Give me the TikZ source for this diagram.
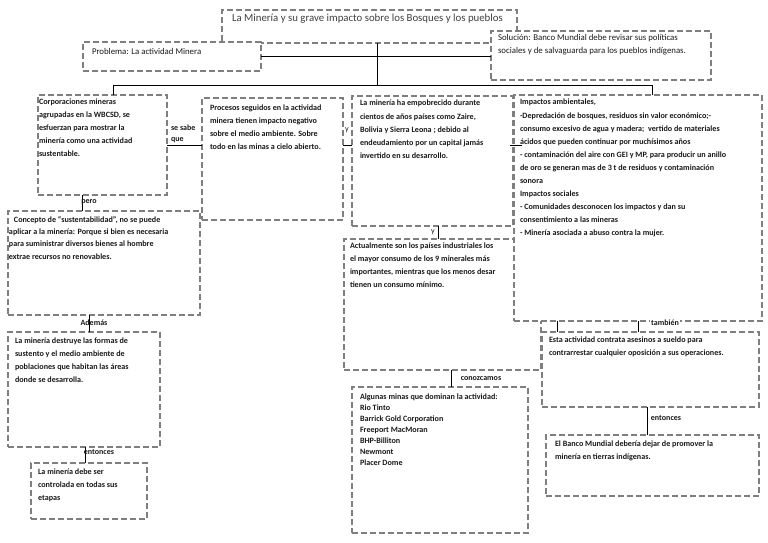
\documentclass[tikz,border=0pt]{standalone}
\usepackage{fontspec}
\setmainfont{Carlito}
\definecolor{boxgray}{HTML}{7F7F7F}
\definecolor{txtcol}{HTML}{1A1A1A}
\definecolor{titlecol}{HTML}{404040}
\begin{document}
\begin{tikzpicture}[x=1pt,y=-1pt,
  box/.style={draw=boxgray, line width=1.5pt, dash pattern=on 6pt off 3pt, fill=white, inner sep=0pt, outer sep=0pt, anchor=north west},
  txt/.style={inner sep=0pt, outer sep=0pt, anchor=north west, align=left, text=txtcol, font=\bfseries\fontsize{8.1}{13}\selectfont, execute at begin node={\rule{0pt}{7.5pt}}},
  rtxt/.style={txt, font=\fontsize{8.8}{13}\selectfont},
  lbl/.style={inner sep=0pt, outer sep=0pt, text=txtcol, font=\bfseries\fontsize{8}{11}\selectfont, align=left},
  conn/.style={draw=black, line width=0.9pt}]
\useasboundingbox (0,0) rectangle (768,543);
\fill[white] (0,0) rectangle (768,543);

% title
\node[box, minimum width=295pt, minimum height=33pt] (title) at (222,10) {};
\node[txt, text=titlecol, font=\fontsize{10.8}{12}\selectfont] (titletxt) at (232,14.3) {La Minería y su grave impacto sobre los Bosques y los pueblos};
% problema
\node[box, minimum width=178pt, minimum height=29pt] (problema) at (83,42) {};
\node[rtxt] (problematxt) at (92,47.3) {Problema: La actividad Minera};
% solucion
\node[box, minimum width=220pt, minimum height=49pt] (solucion) at (491,31) {};
\node[rtxt] (soluciontxt) at (498,34.8) {Solución: Banco Mundial debe revisar sus políticas\\sociales y de salvaguarda para los pueblos indígenas.};

% corporaciones
\node[box, minimum width=129pt, minimum height=100pt] (corp) at (38,95) {};
\node[txt] (corptxt) at (39,99.3) {Corporaciones mineras\\agrupadas en la WBCSD, se\\esfuerzan para mostrar la\\minería como una actividad\\sustentable.};
% procesos
\node[box, minimum width=141pt, minimum height=122pt] (procesos) at (202,98) {};
\node[txt] (procesostxt) at (210,105.3) {Procesos seguidos en la actividad\\minera tienen impacto negativo\\sobre el medio ambiente. Sobre\\todo en las minas a cielo abierto.};
% concepto
\node[box, minimum width=192pt, minimum height=104pt] (concepto) at (8,211) {};
\node[txt, font=\bfseries\fontsize{8.1}{12.3}\selectfont] (conceptotxt) at (9,216.3) {\hspace*{5pt}Concepto de ``sustentabilidad'', no se puede\\aplicar a la minería: Porque si bien es necesaria\\para suministrar diversos bienes al hombre\\extrae recursos no renovables.};
% la mineria ha empobrecido
\node[box, minimum width=161pt, minimum height=130pt] (lamin) at (352,96) {};
\node[txt, font=\bfseries\fontsize{8.1}{13.2}\selectfont] (lamintxt) at (360,100.3) {La minería ha empobrecido durante\\cientos de años países como Zaire,\\Bolivia y Sierra Leona ; debido al\\endeudamiento por un capital jamás\\invertido en su desarrollo.};
% actualmente
\node[box, minimum width=197pt, minimum height=131pt] (actual) at (344,239) {};
\node[txt] (actualtxt) at (350,243.3) {Actualmente son los países industriales los\\el mayor consumo de los 9 minerales más\\importantes, mientras que los menos desar\\tienen un consumo mínimo.};
% impactos
\node[box, minimum width=248pt, minimum height=226pt] (impactos) at (514,95) {};
\node[txt, font=\bfseries\fontsize{8.1}{13.1}\selectfont] (impactostxt) at (520,99.3) {Impactos ambientales,\\-Depredación de bosques, residuos sin valor económico;-\\consumo excesivo de agua y madera;\ \ vertido de materiales\\ácidos que pueden continuar por muchísimos años\\- contaminación del aire con GEI y MP, para producir un anillo\\de oro se generan mas de 3 t de residuos y contaminación\\sonora\\Impactos sociales\\- Comunidades desconocen los impactos y dan su\\consentimiento a las mineras\\- Minería asociada a abuso contra la mujer.};
% destruye
\node[box, minimum width=152pt, minimum height=115pt] (destruye) at (8,332) {};
\node[txt] (destruyetxt) at (15,338.3) {La minería destruye las formas de\\sustento y el medio ambiente de\\poblaciones que habitan las áreas\\donde se desarrolla.};
% debe
\node[box, minimum width=116pt, minimum height=56pt] (debe) at (31,463) {};
\node[txt] (debetxt) at (38,469.3) {La minería debe ser\\controlada en todas sus\\etapas};
% algunas
\node[box, minimum width=176pt, minimum height=146pt] (algunas) at (352,387) {};
\node[txt, font=\bfseries\fontsize{8.1}{11.1}\selectfont] (algunastxt) at (360,393.3) {Algunas minas que dominan la actividad:\\Rio Tinto\\Barrick Gold Corporation\\Freeport MacMoran\\BHP-Billiton\\Newmont\\Placer Dome};
% esta actividad
\node[box, minimum width=217pt, minimum height=75pt] (esta) at (542,332) {};
\node[txt] (estatxt) at (549,337.3) {Esta actividad contrata asesinos a sueldo para\\contrarrestar cualquier oposición a sus operaciones.};
% banco
\node[box, minimum width=213pt, minimum height=61pt] (banco) at (546,435) {};
\node[txt] (bancotxt) at (555,441.3) {El Banco Mundial debería dejar de promover la\\minería en tierras indígenas.};

% connectors
\coordinate (bus) at (377,85);
\coordinate (row) at (0,145);
\coordinate (xa) at (82,0);
\coordinate (xb) at (89,0);
\coordinate (xc) at (85,0);
\coordinate (xd) at (438,0);
\coordinate (xe) at (451,0);
\coordinate (xf) at (638,0);
\coordinate (xg) at (557,0);
\coordinate (xh) at (647,0);
\coordinate (xl) at (113,0);
\coordinate (xr) at (652,0);
\draw[conn] (title.south -| bus) -- (bus);
\draw[conn] (xl |- corp.north) -- (xl |- bus) -- (xr |- bus) -- (xr |- impactos.north);
\draw[conn] (problema.east) -- (problema.east -| solucion.west);
\draw[conn] (corp.east |- row) -- (procesos.west |- row);
\draw[conn] (procesos.east |- row) -- (lamin.west |- row);
\draw[conn] ([xshift=-3pt]lamin.east |- row) -- ([xshift=8pt]impactos.west |- row);
\draw[conn] (xa |- corp.south) -- (xa |- concepto.north);
\draw[conn] (xb |- concepto.south) -- (xb |- destruye.north);
\draw[conn] (xc |- destruye.south) -- (xc |- debe.north);
\draw[conn] (xd |- lamin.south) -- (xd |- actual.north);
\draw[conn] (xe |- actual.south) -- (xe |- algunas.north);
\draw[conn] (xf |- impactos.south) -- (xf |- esta.north);
\draw[conn] (xg |- impactos.south) -- (xg |- esta.north);
\draw[conn] (xh |- esta.south) -- (xh |- banco.north);

% labels
\node[lbl, anchor=west] (lsabe) at (171,133.5) {se sabe\\que};
\node[lbl, font=\fontsize{8}{10}\selectfont, anchor=west] (ly1) at (345,130) {y};
\node[lbl] (lpero) at (89,202) {pero};
\node[lbl] (lademas) at (94,322.5) {Además};
\node[lbl] (lent1) at (99,452.5) {entonces};
\node[lbl, font=\fontsize{8}{10}\selectfont] (ly2) at (433,232) {y};
\node[lbl] (lcono) at (481,379) {conozcamos};
\node[lbl, fill=white, inner sep=1pt] (ltamb) at (665,323) {también};
\node[lbl] (lent2) at (666,418) {entonces};
\end{tikzpicture}
\end{document}
